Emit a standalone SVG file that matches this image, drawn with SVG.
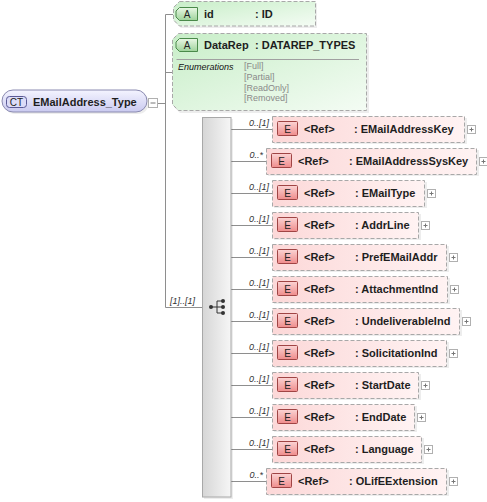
<svg xmlns="http://www.w3.org/2000/svg" width="487" height="502" viewBox="0 0 487 502">
<defs>
<linearGradient id="eGrad" x1="0" y1="0" x2="1" y2="0"><stop offset="0" stop-color="#fcd8d8"/><stop offset="1" stop-color="#fff3f3"/></linearGradient>
<linearGradient id="ebGrad" x1="0" y1="0" x2="0" y2="1"><stop offset="0" stop-color="#fbd4d4"/><stop offset="1" stop-color="#ef8c8c"/></linearGradient>
<linearGradient id="aGrad" x1="0" y1="0" x2="1" y2="1"><stop offset="0" stop-color="#c8eec8"/><stop offset="1" stop-color="#f4fcf4"/></linearGradient>
<linearGradient id="abGrad" x1="0" y1="0" x2="0" y2="1"><stop offset="0" stop-color="#eaf8e6"/><stop offset="1" stop-color="#9ed39a"/></linearGradient>
<linearGradient id="ctGrad" x1="0" y1="0" x2="0" y2="1"><stop offset="0" stop-color="#f4f4ff"/><stop offset="1" stop-color="#cacaf0"/></linearGradient>
<linearGradient id="seqGrad" x1="0" y1="0" x2="1" y2="0"><stop offset="0" stop-color="#d6d6d6"/><stop offset="1" stop-color="#f6f6f6"/></linearGradient>
<style>
text{font-family:"Liberation Sans",Arial,sans-serif}
.b{font-weight:bold;font-size:11px;fill:#1e1e1e}
.card{font-style:italic;font-size:9px;fill:#333}
.enum{font-size:9px;fill:#8a8a8a}
.enh{font-style:italic;font-size:9px;fill:#111}
.bt{font-size:10px;fill:#222;text-anchor:middle}
.conn{stroke:#8e8e8e;stroke-width:1;fill:none}
.shadow{fill:#000;opacity:0.07}
.ebox{fill:url(#eGrad);stroke:#a8a8a8;stroke-dasharray:4,2}
.ebadge{fill:url(#ebGrad);stroke:#a04444}
.abox{fill:url(#aGrad);stroke:#a8a8a8;stroke-dasharray:4,2}
.abadge{fill:url(#abGrad);stroke:#4a8a4a}
.pbox{fill:#fff;stroke:#b0b0b0}
.pm{stroke:#777;stroke-width:1;fill:none}
</style>
</defs>

<g id="connectors">
<path class="conn" d="M157.5,103.5 H165.5 M165.5,14.5 V307.5 M165.5,14.5 H173 M165.5,72.5 H172 M165.5,307.5 H202"/>
<path class="conn" d="M231,129.5 H272 M231,161.5 H266 M231,193.5 H272 M231,225.5 H272 M231,257.5 H272 M231,289.5 H272 M231,321.5 H272 M231,353.5 H272 M231,385.5 H272 M231,417.5 H272 M231,449.5 H272 M231,481.5 H266"/>
<text class="card" x="170" y="304">[1]..[1]</text>
<text class="card" text-anchor="end" x="269" y="126">0..[1]</text>
<text class="card" text-anchor="end" x="263" y="158">0..*</text>
<text class="card" text-anchor="end" x="269" y="190">0..[1]</text>
<text class="card" text-anchor="end" x="269" y="222">0..[1]</text>
<text class="card" text-anchor="end" x="269" y="254">0..[1]</text>
<text class="card" text-anchor="end" x="269" y="286">0..[1]</text>
<text class="card" text-anchor="end" x="269" y="318">0..[1]</text>
<text class="card" text-anchor="end" x="269" y="350">0..[1]</text>
<text class="card" text-anchor="end" x="269" y="382">0..[1]</text>
<text class="card" text-anchor="end" x="269" y="414">0..[1]</text>
<text class="card" text-anchor="end" x="269" y="446">0..[1]</text>
<text class="card" text-anchor="end" x="263" y="478">0..*</text>
</g>

<g id="EMailAddress_Type">
<rect class="shadow" x="4" y="92" width="145" height="22" rx="11"/>
<rect x="2" y="90" width="145" height="22" rx="11" fill="url(#ctGrad)" stroke="#8a8ab0"/>
<rect x="6.5" y="96.5" width="20" height="11" rx="3" fill="#dcdcf8" stroke="#5a5a96"/>
<text class="bt" x="16.5" y="106">CT</text>
<text class="b" x="33" y="105.5">EMailAddress_Type</text>
<rect class="pbox" x="148.5" y="98.5" width="9" height="9"/>
<path class="pm" d="M150.5,103 H155.5"/>
</g>

<g id="attr-id">
<path class="shadow" d="M181,3 H317 V28 H181 L175,22 V9 Z"/>
<path class="abox" d="M179.5,1.5 H315.5 V26 H179.5 L173.5,20 V7.5 Z"/>
<path class="abadge" d="M179.5,7.5 H197.5 V20.5 H179.5 L176,17 V11 Z"/>
<text class="bt" x="187" y="18">A</text>
<text class="b" x="204" y="17.5">id</text>
<text class="b" x="255" y="17.5">: ID</text>
</g>

<g id="attr-DataRep">
<path class="shadow" d="M180,35 H369 V113 H180 L174,107 V41 Z"/>
<path class="abox" d="M178.5,33.5 H366.5 V110.5 H178.5 L172.5,104.5 V39.5 Z"/>
<path class="abadge" d="M179.5,38.5 H197.5 V51.5 H179.5 L176,48 V42 Z"/>
<text class="bt" x="187" y="49">A</text>
<text class="b" x="204" y="48.5">DataRep</text>
<text class="b" x="255" y="48.5">: DATAREP_TYPES</text>
<path d="M176.5,59.5 H359" stroke="#a0a0a0" fill="none"/>
<text class="enh" x="178" y="70">Enumerations</text>
<text class="enum" x="244" y="69">[Full]</text>
<text class="enum" x="244" y="79.5">[Partial]</text>
<text class="enum" x="244" y="90.5">[ReadOnly]</text>
<text class="enum" x="244" y="101">[Removed]</text>
</g>

<g id="sequence">
<rect class="shadow" x="204" y="119" width="29" height="380"/>
<rect x="202.5" y="117.5" width="28.5" height="379.5" fill="url(#seqGrad)" stroke="#a8a8a8"/>
<path d="M211,307 H217 M217,301 V313 M217,301 H223 M217,307 H223 M217,313 H223" stroke="#333" fill="none"/>
<circle cx="211" cy="307" r="2" fill="#333"/>
<circle cx="223" cy="301" r="2" fill="#333"/>
<circle cx="223" cy="307" r="2" fill="#333"/>
<circle cx="223" cy="313" r="2" fill="#333"/>
</g>

<g id="el-EMailAddressKey" transform="translate(272,129)">
<rect class="shadow" x="2" y="-11" width="193" height="26"/>
<rect class="ebox" x="0.5" y="-12.5" width="192" height="26"/>
<rect class="ebadge" x="5.5" y="-7.5" width="20" height="14" rx="1"/>
<text class="bt" x="15.5" y="4">E</text>
<text class="b" x="32" y="4">&lt;Ref&gt;</text>
<text class="b" x="82" y="4">: EMailAddressKey</text>
<rect class="pbox" x="195.5" y="-3.5" width="8" height="8"/>
<path class="pm" d="M197.5,0.5 H201.5 M199.5,-1.5 V2.5"/>
</g>

<g id="el-EMailAddressSysKey" transform="translate(266,161)">
<rect class="shadow" x="2" y="-11" width="211" height="26"/>
<rect class="ebox" x="0.5" y="-12.5" width="210" height="26"/>
<rect class="ebadge" x="5.5" y="-7.5" width="20" height="14" rx="1"/>
<text class="bt" x="15.5" y="4">E</text>
<text class="b" x="32" y="4">&lt;Ref&gt;</text>
<text class="b" x="83" y="4">: EMailAddressSysKey</text>
<rect class="pbox" x="213.5" y="-3.5" width="8" height="8"/>
<path class="pm" d="M215.5,0.5 H219.5 M217.5,-1.5 V2.5"/>
</g>

<g id="el-EMailType" transform="translate(272,193)">
<rect class="shadow" x="2" y="-11" width="153" height="26"/>
<rect class="ebox" x="0.5" y="-12.5" width="152" height="26"/>
<rect class="ebadge" x="5.5" y="-7.5" width="20" height="14" rx="1"/>
<text class="bt" x="15.5" y="4">E</text>
<text class="b" x="32" y="4">&lt;Ref&gt;</text>
<text class="b" x="83" y="4">: EMailType</text>
<rect class="pbox" x="155.5" y="-3.5" width="8" height="8"/>
<path class="pm" d="M157.5,0.5 H161.5 M159.5,-1.5 V2.5"/>
</g>

<g id="el-AddrLine" transform="translate(272,225)">
<rect class="shadow" x="2" y="-11" width="147" height="26"/>
<rect class="ebox" x="0.5" y="-12.5" width="146" height="26"/>
<rect class="ebadge" x="5.5" y="-7.5" width="20" height="14" rx="1"/>
<text class="bt" x="15.5" y="4">E</text>
<text class="b" x="32" y="4">&lt;Ref&gt;</text>
<text class="b" x="83" y="4">: AddrLine</text>
<rect class="pbox" x="149.5" y="-3.5" width="8" height="8"/>
<path class="pm" d="M151.5,0.5 H155.5 M153.5,-1.5 V2.5"/>
</g>

<g id="el-PrefEMailAddr" transform="translate(272,257)">
<rect class="shadow" x="2" y="-11" width="175" height="26"/>
<rect class="ebox" x="0.5" y="-12.5" width="174" height="26"/>
<rect class="ebadge" x="5.5" y="-7.5" width="20" height="14" rx="1"/>
<text class="bt" x="15.5" y="4">E</text>
<text class="b" x="32" y="4">&lt;Ref&gt;</text>
<text class="b" x="83" y="4">: PrefEMailAddr</text>
<rect class="pbox" x="177.5" y="-3.5" width="8" height="8"/>
<path class="pm" d="M179.5,0.5 H183.5 M181.5,-1.5 V2.5"/>
</g>

<g id="el-AttachmentInd" transform="translate(272,289)">
<rect class="shadow" x="2" y="-11" width="176" height="26"/>
<rect class="ebox" x="0.5" y="-12.5" width="175" height="26"/>
<rect class="ebadge" x="5.5" y="-7.5" width="20" height="14" rx="1"/>
<text class="bt" x="15.5" y="4">E</text>
<text class="b" x="32" y="4">&lt;Ref&gt;</text>
<text class="b" x="83" y="4">: AttachmentInd</text>
<rect class="pbox" x="178.5" y="-3.5" width="8" height="8"/>
<path class="pm" d="M180.5,0.5 H184.5 M182.5,-1.5 V2.5"/>
</g>

<g id="el-UndeliverableInd" transform="translate(272,321)">
<rect class="shadow" x="2" y="-11" width="188" height="26"/>
<rect class="ebox" x="0.5" y="-12.5" width="187" height="26"/>
<rect class="ebadge" x="5.5" y="-7.5" width="20" height="14" rx="1"/>
<text class="bt" x="15.5" y="4">E</text>
<text class="b" x="32" y="4">&lt;Ref&gt;</text>
<text class="b" x="83" y="4">: UndeliverableInd</text>
<rect class="pbox" x="190.5" y="-3.5" width="8" height="8"/>
<path class="pm" d="M192.5,0.5 H196.5 M194.5,-1.5 V2.5"/>
</g>

<g id="el-SolicitationInd" transform="translate(272,353)">
<rect class="shadow" x="2" y="-11" width="175" height="26"/>
<rect class="ebox" x="0.5" y="-12.5" width="174" height="26"/>
<rect class="ebadge" x="5.5" y="-7.5" width="20" height="14" rx="1"/>
<text class="bt" x="15.5" y="4">E</text>
<text class="b" x="32" y="4">&lt;Ref&gt;</text>
<text class="b" x="83" y="4">: SolicitationInd</text>
<rect class="pbox" x="177.5" y="-3.5" width="8" height="8"/>
<path class="pm" d="M179.5,0.5 H183.5 M181.5,-1.5 V2.5"/>
</g>

<g id="el-StartDate" transform="translate(272,385)">
<rect class="shadow" x="2" y="-11" width="147" height="26"/>
<rect class="ebox" x="0.5" y="-12.5" width="146" height="26"/>
<rect class="ebadge" x="5.5" y="-7.5" width="20" height="14" rx="1"/>
<text class="bt" x="15.5" y="4">E</text>
<text class="b" x="32" y="4">&lt;Ref&gt;</text>
<text class="b" x="83" y="4">: StartDate</text>
<rect class="pbox" x="149.5" y="-3.5" width="8" height="8"/>
<path class="pm" d="M151.5,0.5 H155.5 M153.5,-1.5 V2.5"/>
</g>

<g id="el-EndDate" transform="translate(272,417)">
<rect class="shadow" x="2" y="-11" width="143" height="26"/>
<rect class="ebox" x="0.5" y="-12.5" width="142" height="26"/>
<rect class="ebadge" x="5.5" y="-7.5" width="20" height="14" rx="1"/>
<text class="bt" x="15.5" y="4">E</text>
<text class="b" x="32" y="4">&lt;Ref&gt;</text>
<text class="b" x="83" y="4">: EndDate</text>
<rect class="pbox" x="145.5" y="-3.5" width="8" height="8"/>
<path class="pm" d="M147.5,0.5 H151.5 M149.5,-1.5 V2.5"/>
</g>

<g id="el-Language" transform="translate(272,449)">
<rect class="shadow" x="2" y="-11" width="150" height="26"/>
<rect class="ebox" x="0.5" y="-12.5" width="149" height="26"/>
<rect class="ebadge" x="5.5" y="-7.5" width="20" height="14" rx="1"/>
<text class="bt" x="15.5" y="4">E</text>
<text class="b" x="32" y="4">&lt;Ref&gt;</text>
<text class="b" x="83" y="4">: Language</text>
<rect class="pbox" x="152.5" y="-3.5" width="8" height="8"/>
<path class="pm" d="M154.5,0.5 H158.5 M156.5,-1.5 V2.5"/>
</g>

<g id="el-OLifEExtension" transform="translate(266,481)">
<rect class="shadow" x="2" y="-11" width="181" height="26"/>
<rect class="ebox" x="0.5" y="-12.5" width="180" height="26"/>
<rect class="ebadge" x="5.5" y="-7.5" width="20" height="14" rx="1"/>
<text class="bt" x="15.5" y="4">E</text>
<text class="b" x="32" y="4">&lt;Ref&gt;</text>
<text class="b" x="83" y="4">: OLifEExtension</text>
<rect class="pbox" x="183.5" y="-3.5" width="8" height="8"/>
<path class="pm" d="M185.5,0.5 H189.5 M187.5,-1.5 V2.5"/>
</g>
</svg>
